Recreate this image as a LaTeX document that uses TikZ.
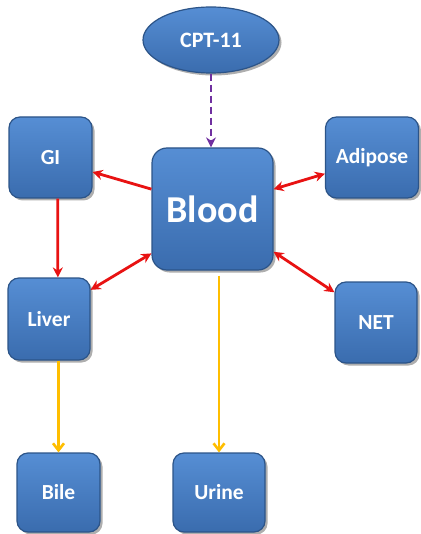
\documentclass[tikz,border=0pt]{standalone}
\usepackage{fontspec}
\setmainfont{Carlito}
\usetikzlibrary{shapes.geometric,arrows.meta,shadows}
\definecolor{boxtop}{RGB}{86,142,212}
\definecolor{boxbot}{RGB}{58,108,174}
\definecolor{boxedge}{RGB}{44,84,136}
\definecolor{redar}{RGB}{232,18,18}
\definecolor{purar}{RGB}{112,48,160}
\definecolor{yelar}{RGB}{255,190,0}
\tikzset{
  organ/.style={draw=boxedge, line width=1.2pt, rounded corners=11pt,
    top color=boxtop, bottom color=boxbot, text=white,
    font=\bfseries\fontsize{21.5}{23}\selectfont,
    drop shadow={shadow xshift=2.5pt, shadow yshift=-2.5pt, opacity=0.45, fill=black!70},
    inner sep=0pt},
  redarrow/.style={draw=redar, line width=2.8pt, -{Stealth[length=10pt,width=10pt]}},
  redboth/.style={draw=redar, line width=2.8pt, {Stealth[length=10pt,width=10pt]}-{Stealth[length=10pt,width=10pt]}},
  yelarrow/.style={draw=yelar, line width=2.8pt, -{Straight Barb[length=7pt,width=11pt,line width=2.6pt]}},
  purarrow/.style={draw=purar, line width=2.8pt, dash pattern=on 7pt off 4pt, -{Stealth[length=10pt,width=10pt]}}
}
\begin{document}
\begin{tikzpicture}[x=1pt,y=1pt]
\useasboundingbox (0,0) rectangle (420,-534);
\node[ellipse, draw=boxedge, line width=1.2pt, top color=boxtop, bottom color=boxbot,
  text=white, font=\bfseries\fontsize{22}{24}\selectfont, minimum width=136pt, minimum height=66pt,
  inner sep=0pt, drop shadow={shadow xshift=2.5pt, shadow yshift=-2.5pt, opacity=0.45, fill=black!70}]
  (cpt) at (211,-40) {CPT-11};
\node[organ, minimum width=121pt, minimum height=122pt, rounded corners=15pt,
  font=\bfseries\fontsize{38}{40}\selectfont] (blood) at (212.5,-209) {Blood};
\node[organ, minimum width=83pt, minimum height=81pt] (gi) at (50.5,-157.5) {GI};
\node[organ, minimum width=93pt, minimum height=81pt] (adipose) at (372,-157.5) {Adipose};
\node[organ, minimum width=82pt, minimum height=82pt] (liver) at (49,-319) {Liver};
\node[organ, minimum width=82pt, minimum height=81pt] (net) at (376,-322.5) {NET};
\node[organ, minimum width=83pt, minimum height=79pt] (bile) at (58.5,-492.5) {Bile};
\node[organ, minimum width=92pt, minimum height=79pt] (urine) at (219,-492.5) {Urine};

\draw[purarrow] (cpt.south) -- (cpt.south |- blood.north);
\draw[redarrow] (blood.162.6) -- (gi.-19.3);
\draw[redboth] (blood.18.3) -- (adipose.-161.4);
\draw[redarrow] (gi.-80.2) -- (liver.78.3);
\draw[redboth] (blood.-144.6) -- (liver.35.3);
\draw[redboth] (blood.-35.4) -- (net.144.3);
\draw[yelarrow] (bile.north |- liver.south) -- (bile.north);
\draw[yelarrow, shorten <=5pt] (urine.north |- blood.south) -- (urine.north);
\end{tikzpicture}
\end{document}
